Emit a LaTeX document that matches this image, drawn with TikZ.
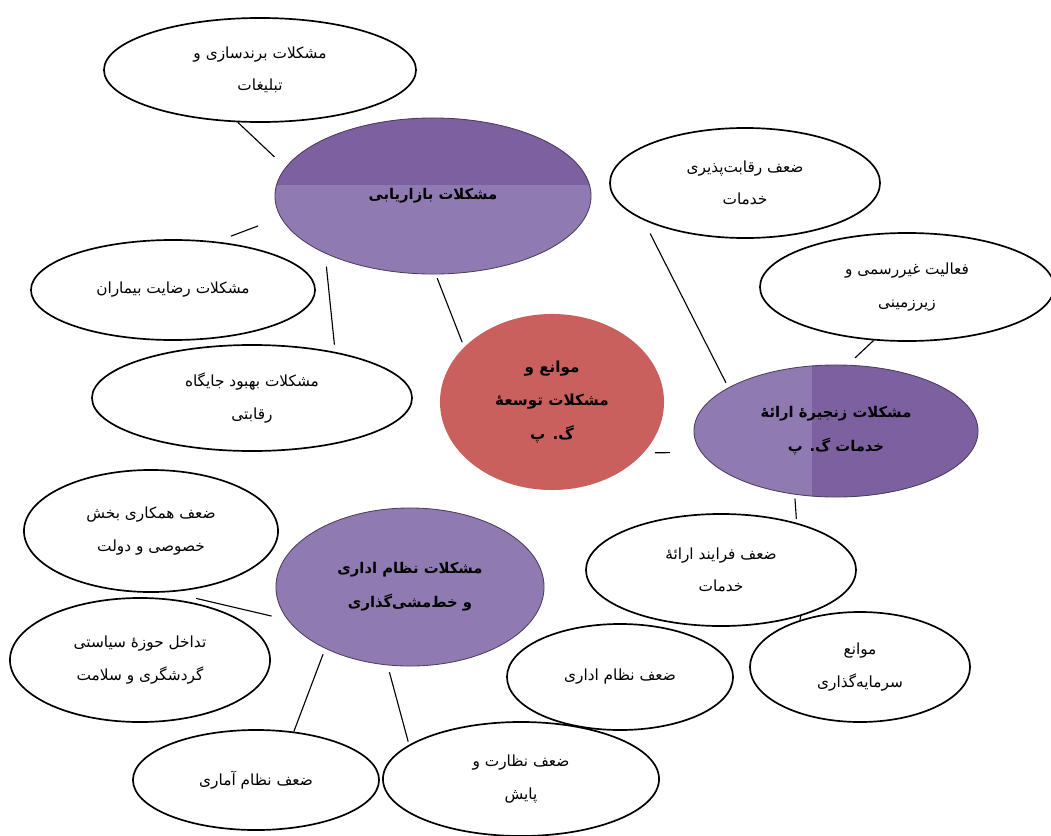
\documentclass[tikz,border=0pt]{standalone}
\usepackage{fontspec}
\usepackage{tikz}
\usetikzlibrary{shapes.geometric}
\newfontfamily\arabicfont[Script=Arabic]{DejaVu Sans}
\TeXXeTstate=1
\newcommand{\fatxt}[1]{\beginR #1\endR}
\definecolor{purpleD}{RGB}{125,96,160}
\definecolor{purpleL}{RGB}{143,123,178}
\definecolor{redC}{RGB}{202,96,94}
\definecolor{rimC}{RGB}{75,62,92}

\begin{document}
\begin{tikzpicture}[x=0.025cm,y=-0.025cm]
                \tikzstyle{every node}=[font=\arabicfont\fontsize{10.9}{23}\selectfont,align=center]
                \tikzstyle{leaf}=[ellipse,draw,line width=1.2pt,inner sep=0pt]
                \tikzstyle{group}=[ellipse,draw=rimC,line width=0.6pt,fill=purpleL,inner sep=0pt,font=\arabicfont\bfseries\fontsize{10.5}{24}\selectfont]
                \useasboundingbox (0,0) rectangle (1051,835);
                % centre
                \node [ellipse,fill=redC,inner sep=0pt,minimum width=5.6cm,minimum height=4.4cm,font=\arabicfont\bfseries\fontsize{10.8}{24}\selectfont] (center) at (552,402) {\fatxt{موانع و}\\\fatxt{مشکلات توسعهٔ}\\\fatxt{گ. پ}};
                % groups
                \node [group,minimum width=7.9cm,minimum height=3.9cm,path picture={\fill[purpleD] (path picture bounding box.north west) rectangle ([yshift=0.275cm]path picture bounding box.east);}] (bazar) at (433,196) {\fatxt{مشکلات بازاریابی}};
                \node [group,minimum width=7.1cm,minimum height=3.3cm,path picture={\fill[purpleD] ([xshift=-0.6cm]path picture bounding box.north) rectangle (path picture bounding box.south east);}] (chain) at (836,431) {\fatxt{مشکلات زنجیرهٔ ارائهٔ}\\\fatxt{خدمات گ. پ}};
                \node [group,minimum width=6.7cm,minimum height=3.95cm] (edari) at (410,587) {\fatxt{مشکلات نظام اداری}\\\fatxt{و خط‌مشی‌گذاری}};
                % leaves
                \node [leaf,minimum width=7.8cm,minimum height=2.6cm] (brand) at (260,70) {\fatxt{مشکلات برندسازی و}\\\fatxt{تبلیغات}};
                \node [leaf,minimum width=7.1cm,minimum height=2.5cm] (rezayat) at (173,290) {\fatxt{مشکلات رضایت بیماران}};
                \node [leaf,minimum width=8cm,minimum height=2.65cm] (jaygah) at (252,398) {\fatxt{مشکلات بهبود جایگاه}\\\fatxt{رقابتی}};
                \node [leaf,minimum width=6.75cm,minimum height=2.75cm] (raqabat) at (745,183) {\fatxt{ضعف رقابت‌پذیری}\\\fatxt{خدمات}};
                \node [leaf,minimum width=7.35cm,minimum height=2.7cm] (informal) at (907,287) {\fatxt{فعالیت غیررسمی و}\\\fatxt{زیرزمینی}};
                \node [leaf,minimum width=6.75cm,minimum height=2.8cm] (farayand) at (721,570) {\fatxt{ضعف فرایند ارائهٔ}\\\fatxt{خدمات}};
                \node [leaf,minimum width=5.5cm,minimum height=2.75cm] (mavane) at (860,667) {\fatxt{موانع}\\\fatxt{سرمایه‌گذاری}};
                \node [leaf,minimum width=5.65cm,minimum height=2.65cm] (nezamedari) at (620,677) {\fatxt{ضعف نظام اداری}};
                \node [leaf,minimum width=6.35cm,minimum height=3.05cm] (hamkari) at (151,531) {\fatxt{ضعف همکاری بخش}\\\fatxt{خصوصی و دولت}};
                \node [leaf,minimum width=6.5cm,minimum height=3.1cm] (tadakhol) at (140,660) {\fatxt{تداخل حوزهٔ سیاستی}\\\fatxt{گردشگری و سلامت}};
                \node [leaf,minimum width=6.15cm,minimum height=2.5cm] (amari) at (256,780) {\fatxt{ضعف نظام آماری}};
                \node [leaf,minimum width=6.9cm,minimum height=2.85cm] (nezarat) at (521,779) {\fatxt{ضعف نظارت و}\\\fatxt{پایش}};
                % links
                \draw [line width=0.8pt,shorten >=0.38cm] (brand.247) -- (bazar.169);
                \draw [line width=0.8pt,shorten <=0.38cm,shorten >=0.6cm] (rezayat.48) -- (bazar.188);
                \draw [line width=0.8pt,shorten <=0.33cm,shorten >=0.18cm] (bazar.208) -- (jaygah.29);
                \draw [line width=0.8pt,shorten <=0.1cm,shorten >=0.13cm] (bazar.272) -- (center.148);
                \draw [line width=0.8pt,shorten <=0.38cm,shorten >=0.13cm] (raqabat.200) -- (chain.158);
                \draw [line width=0.8pt,shorten >=0.25cm] (informal.238) -- (chain.80);
                \draw [line width=0.8pt,shorten <=0.28cm,shorten >=0.78cm] (center.331) -- (chain.189);
                \draw [line width=0.8pt,shorten <=0.1cm,shorten >=0.09cm] (chain.237) -- (farayand.32);
                \draw [line width=0.8pt] (farayand.330) -- (mavane.142);
                \draw [line width=0.8pt,shorten <=0.68cm,shorten >=0.41cm] (hamkari.287) -- (edari.195);
                \draw [line width=0.8pt,shorten <=0.15cm] (edari.216) -- (amari.52);
                \draw [line width=0.8pt,shorten <=0.18cm,shorten >=0.08cm] (edari.254) -- (nezarat.163);
\end{tikzpicture}
\end{document}
